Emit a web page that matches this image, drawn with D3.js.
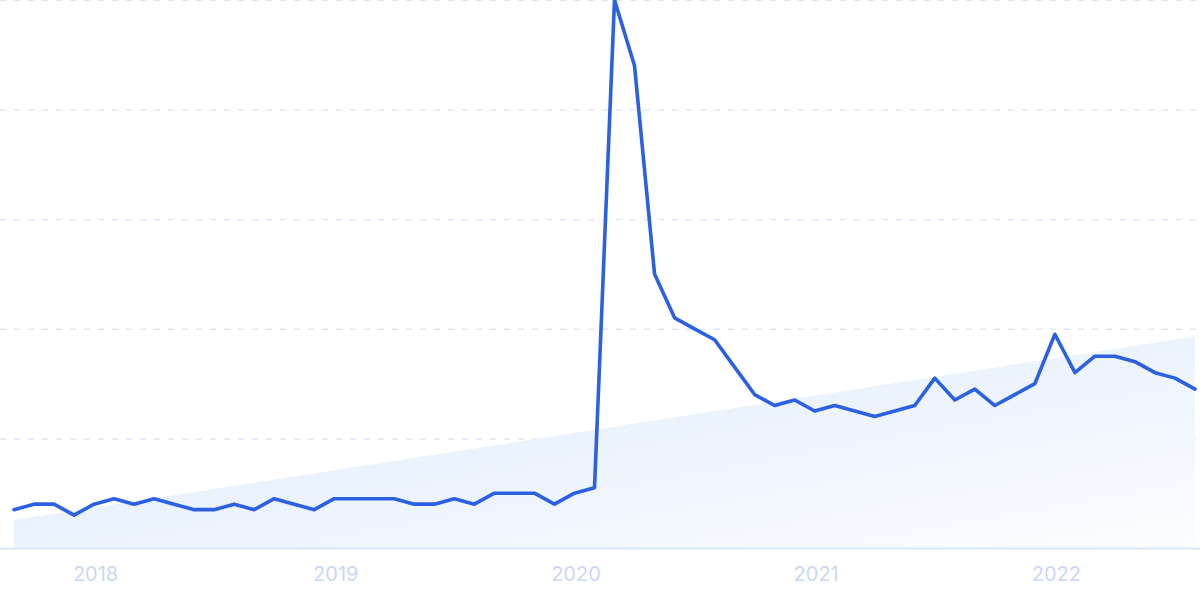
<!DOCTYPE html>
<html>
<head>
<meta charset="utf-8">
<script src="https://cdn.jsdelivr.net/npm/d3@7"></script>
<style>
  html, body { margin: 0; padding: 0; background: #fff; }
  svg { display: block; }
</style>
</head>
<body>
<svg id="chart" width="1200" height="600"></svg>
<script>
// ---- data (monthly, Sep 2017 – Jul 2022) ----
const startYear = 2017, startMonth = 8; // September (0-based)
const values = [7,8,8,6,8,9,8,9,8,7,7,8,7,9,8,7,9,9,9,9,8,8,9,8,10,10,10,8,10,11,
                100,88,50,42,40,38,33,28,26,27,25,26,25,24,25,26,31,27,29,26,28,30,39,32,35,35,34,32,31,29];
const trendValues = [5.1, 38.6];           // start and end of trend band
const yTicks = [0, 20, 40, 60, 80, 100];
const yearLabels = ["2018", "2019", "2020", "2021", "2022"];

const months = values.map((v, i) => new Date(startYear, startMonth + i, 1));

const W = 1200, H = 600;
const plot = { left: 14, right: 1195, top: 0, bottom: 548 };

const svg = d3.select("#chart");

const x = d3.scaleLinear().domain([0, values.length - 1]).range([plot.left, plot.right]);
const y = d3.scaleLinear().domain([0, 100]).range([plot.bottom, plot.top]);

// gradient
const defs = svg.append("defs");
const grad = defs.append("linearGradient").attr("id", "trendGrad")
  .attr("x1", "0").attr("y1", "0").attr("x2", "1").attr("y2", "1");
grad.append("stop").attr("offset", "0%").attr("stop-color", "#dce9fb");
grad.append("stop").attr("offset", "100%").attr("stop-color", "#fbfdff");

// gridlines
const gridG = svg.append("g");
gridG.selectAll("line").data(yTicks.filter(t => t > 0)).join("line")
  .attr("x1", 0).attr("x2", W)
  .attr("y1", d => y(d) + 0.5).attr("y2", d => y(d) + 0.5)
  .attr("stroke", "#dbe6fb").attr("stroke-width", 1.5)
  .attr("stroke-dasharray", "6,8");

// trend area
const trendPts = [
  { i: 0, v: trendValues[0] },
  { i: values.length - 1, v: trendValues[1] }
];
svg.append("path")
  .datum(trendPts)
  .attr("fill", "url(#trendGrad)")
  .attr("d", d3.area().x(d => x(d.i)).y0(y(0)).y1(d => y(d.v)));

// baseline
svg.append("line")
  .attr("x1", 0).attr("x2", W)
  .attr("y1", y(0) + 0.5).attr("y2", y(0) + 0.5)
  .attr("stroke", "#d3e1f8").attr("stroke-width", 1.5);

// main line
svg.append("path")
  .datum(values)
  .attr("fill", "none")
  .attr("stroke", "#2c60e2")
  .attr("stroke-width", 3.6)
  .attr("stroke-linejoin", "round")
  .attr("stroke-linecap", "round")
  .attr("d", d3.line().x((d, i) => x(i)).y(d => y(d)));

// x axis labels (January of each year)
const janIdx = months.map((d, i) => d.getMonth() === 0 ? i : -1).filter(i => i >= 0);
const xAxis = d3.axisBottom(x)
  .tickValues(janIdx)
  .tickFormat((d, k) => yearLabels[k])
  .tickSize(0)
  .tickPadding(0);
const ax = svg.append("g")
  .attr("transform", `translate(1, ${plot.bottom + 19})`)
  .call(xAxis);
ax.select(".domain").remove();
ax.selectAll("text")
  .attr("font-family", "Inter, 'Open Sans', sans-serif")
  .attr("font-size", 20)
  .attr("fill", "#cad7f5");
</script>
</body>
</html>
